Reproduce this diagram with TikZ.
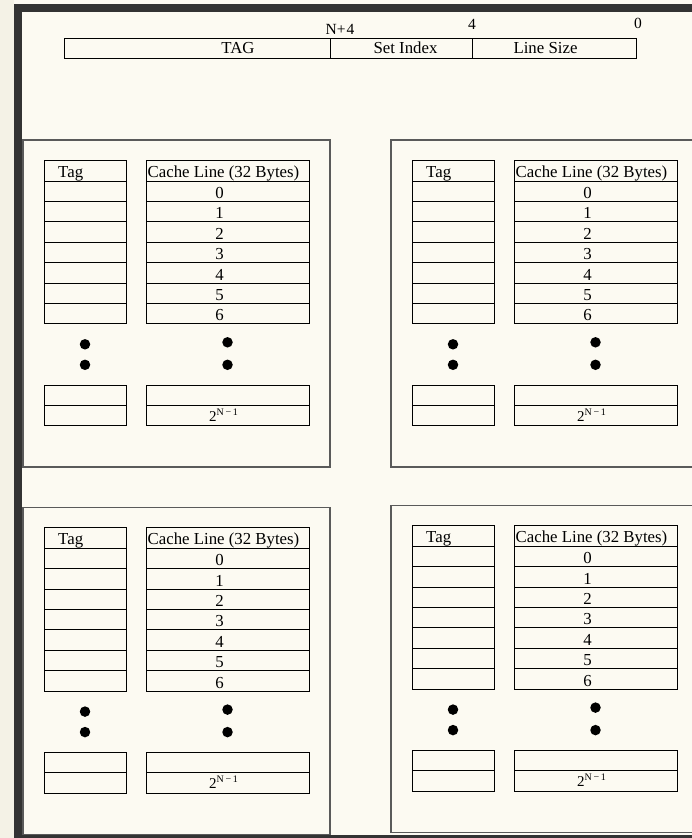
\documentclass[tikz,border=0pt]{standalone}
\usepackage{fontspec}
\setmainfont{Liberation Serif}
\usetikzlibrary{calc}
\definecolor{bg}{HTML}{FCFAF2}
\definecolor{strip}{HTML}{F4F2E6}
\definecolor{framec}{HTML}{333333}
\definecolor{pline}{HTML}{5A5A5A}
\tikzset{
 cell/.style={draw=black, line width=1pt, inner sep=0pt, outer sep=0pt, anchor=north west, minimum height=20.4pt},
 tagcell/.style={cell, minimum width=82pt},
 linecell/.style={cell, minimum width=163pt},
 panelbox/.style={draw=pline, line width=1.2pt, inner sep=0pt, outer sep=0pt, anchor=north west, minimum width=307pt, minimum height=327pt},
 txt/.style={font=\fontsize{16.8}{18}\selectfont, inner sep=0pt, anchor=base},
 dotmark/.style={circle, fill=black, minimum size=10.5pt, inner sep=0pt},
 field/.style={draw=black, line width=1pt, inner sep=0pt, outer sep=0pt, anchor=north west, minimum height=20pt},
}
\newcommand\cachepanel[3]{%
 \node[panelbox] (#1box) at (#2,#3) {};
 \foreach \i in {0,...,7}{
   \node[tagcell] (#1t\i) at (#2+21,#3+20.6+20.4*\i) {};
   \node[linecell] (#1c\i) at (#2+123,#3+20.6+20.4*\i) {};
 }
 \node[txt, anchor=base west] (#1th) at ($(#1t0.south west)+(14,-4)$) {Tag};
 \node[txt] (#1ch) at ($(#1c0.south)+(-4,-4)$) {Cache Line (32 Bytes)};
 \foreach \n [count=\k] in {0,...,6}{
   \node[txt] (#1n\n) at ($(#1c\k.south)+(-8,-3)$) {\n};
 }
 \node[dotmark] (#1td1) at ($(#1t7.south)+(0,20.5)$) {};
 \node[dotmark] (#1td2) at ($(#1t7.south)+(0,41)$) {};
 \node[dotmark] (#1cd1) at ($(#1c7.south)+(0,18.5)$) {};
 \node[dotmark] (#1cd2) at ($(#1c7.south)+(0,41)$) {};
 \node[tagcell] (#1tb1) at (#2+21,#3+245) {};
 \node[tagcell] (#1tb2) at (#2+21,#3+265.4) {};
 \node[linecell] (#1cb1) at (#2+123,#3+245) {};
 \node[linecell] (#1cb2) at (#2+123,#3+265.4) {};
 \node[txt] (#1last) at ($(#1cb2.south)+(-4,-4.3)$) {{\fontsize{15}{15}\selectfont 2}{\fontsize{10}{10}\selectfont\raisebox{6.5pt}{N\,−\,1}}};
}
\begin{document}
\begin{tikzpicture}[x=1pt,y=-1pt]
\useasboundingbox (0,0) rectangle (692,838);
\clip (0,0) rectangle (692,838);
\fill[bg] (0,0) rectangle (692,838);
\fill[strip] (0,0) rectangle (14,838);
\fill[framec] (14,4) rectangle (692,12);
\fill[framec] (14,4) rectangle (22,838);
\fill[framec] (14,835) rectangle (692,838);
% address fields
\node[field, minimum width=266pt] (ftag) at (64,38.3) {};
\node[field, minimum width=142.7pt] (fset) at (330,38.3) {};
\node[field, minimum width=163.3pt] (fline) at (472.7,38.3) {};
\node[txt] (ltag) at (238,53) {TAG};
\node[txt] (lset) at (405.5,53) {Set Index};
\node[txt] (lline) at (545.5,53) {Line Size};
\node[txt, font=\fontsize{15.5}{17}\selectfont] (bn4) at (340,34) {N+\kern1pt4};
\node[txt, font=\fontsize{15.5}{17}\selectfont] (b4) at (472,29) {4};
\node[txt, font=\fontsize{15.5}{17}\selectfont] (b0) at (638,28) {0};
% panels
\cachepanel{a}{23}{140}
\cachepanel{b}{391}{140}
\cachepanel{c}{23}{507.3}
\cachepanel{d}{391}{505.3}
\end{tikzpicture}
\end{document}
